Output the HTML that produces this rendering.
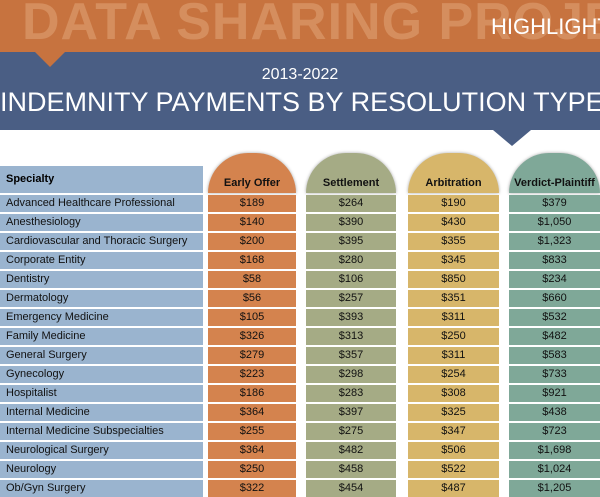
<!DOCTYPE html>
<html><head><meta charset="utf-8">
<style>
body{margin:0;width:600px;height:485px;overflow:hidden;background:#fff;font-family:"Liberation Sans",sans-serif;position:relative}
.abs{position:absolute}
.cell{position:absolute;height:17px;line-height:17px;font-size:11px;color:#111;text-align:center;box-sizing:border-box}
.hdr{position:absolute;top:153px;height:40px;border-radius:45px 45px 0 0;box-shadow:0 0 3px rgba(0,0,0,.35);font-weight:bold;font-size:11px;text-align:center;line-height:16px;box-sizing:border-box;padding-top:22px;color:#111}
</style></head><body>
<div class="abs" style="left:0;top:0;width:600px;height:52px;background:#c7733f;overflow:hidden">
  <div class="abs" style="left:22px;top:-8px;font-size:52px;font-weight:bold;color:#d58e5e;white-space:nowrap;letter-spacing:1px">DATA SHARING PROJECT</div>
  <div class="abs" style="left:491px;top:14px;font-size:22px;color:#fff">HIGHLIGHT</div>
</div>
<div class="abs" style="left:35px;top:52px;width:0;height:0;border-left:15px solid transparent;border-right:15px solid transparent;border-top:15px solid #c7733f;z-index:2"></div>
<div class="abs" style="left:0;top:52px;width:600px;height:78px;background:#4a5e84"></div>
<div class="abs" style="left:493px;top:130px;width:0;height:0;border-left:19px solid transparent;border-right:19px solid transparent;border-top:16px solid #4a5e84"></div>
<div class="abs" style="left:0;top:66px;width:600px;text-align:center;color:#fff;font-size:16px">2013-2022</div>
<div class="abs" style="left:0;top:87px;width:600px;text-align:center;color:#fff;font-size:27px;white-space:nowrap">INDEMNITY PAYMENTS BY RESOLUTION TYPE</div>

<div class="abs" style="left:0;top:166px;width:203px;height:27px;background:#9ab4cf;font-weight:bold;font-size:11px;line-height:27px;padding-left:6px;box-sizing:border-box">Specialty</div>
<div class="hdr" style="left:208px;width:88px;background:#d4834e">Early Offer</div>
<div class="hdr" style="left:306px;width:90px;background:#a5ab85">Settlement</div>
<div class="hdr" style="left:408px;width:91px;background:#d7b66a">Arbitration</div>
<div class="hdr" style="left:509px;width:91px;background:#7fa898">Verdict-Plaintiff</div>
<div id="rows"></div>
<script>
const specialties=["Advanced Healthcare Professional","Anesthesiology","Cardiovascular and Thoracic Surgery","Corporate Entity","Dentistry","Dermatology","Emergency Medicine","Family Medicine","General Surgery","Gynecology","Hospitalist","Internal Medicine","Internal Medicine Subspecialties","Neurological Surgery","Neurology","Ob/Gyn Surgery"];
const earlyOffer=[189,140,200,168,58,56,105,326,279,223,186,364,255,364,250,322];
const settlement=[264,390,395,280,106,257,393,313,357,298,283,397,275,482,458,454];
const arbitration=[190,430,355,345,850,351,311,250,311,254,308,325,347,506,522,487];
const verdictPlaintiff=[379,1050,1323,833,234,660,532,482,583,733,921,438,723,1698,1024,1205];
const cols=[{d:earlyOffer,x:208,w:88,c:'#d4834e',n:'early-offer'},{d:settlement,x:306,w:90,c:'#a5ab85',n:'settlement'},{d:arbitration,x:408,w:91,c:'#d7b66a',n:'arbitration'},{d:verdictPlaintiff,x:509,w:91,c:'#7fa898',n:'verdict-plaintiff'}];
const root=document.getElementById('rows');
const fmt=v=>'$'+v.toLocaleString('en-US');
specialties.forEach((s,i)=>{
  const y=195+19*i;
  const d=document.createElement('div');
  d.className='cell';
  
  
  d.style.cssText=`left:0;top:${y}px;width:203px;background:#9ab4cf;text-align:left;padding-left:6px`;
  d.textContent=s;root.appendChild(d);
  cols.forEach(col=>{
    const e=document.createElement('div');
    e.className='cell';
    
    
    e.style.cssText=`left:${col.x}px;top:${y}px;width:${col.w}px;background:${col.c}`;
    e.textContent=fmt(col.d[i]);root.appendChild(e);
  });
});
</script>
</body></html>
